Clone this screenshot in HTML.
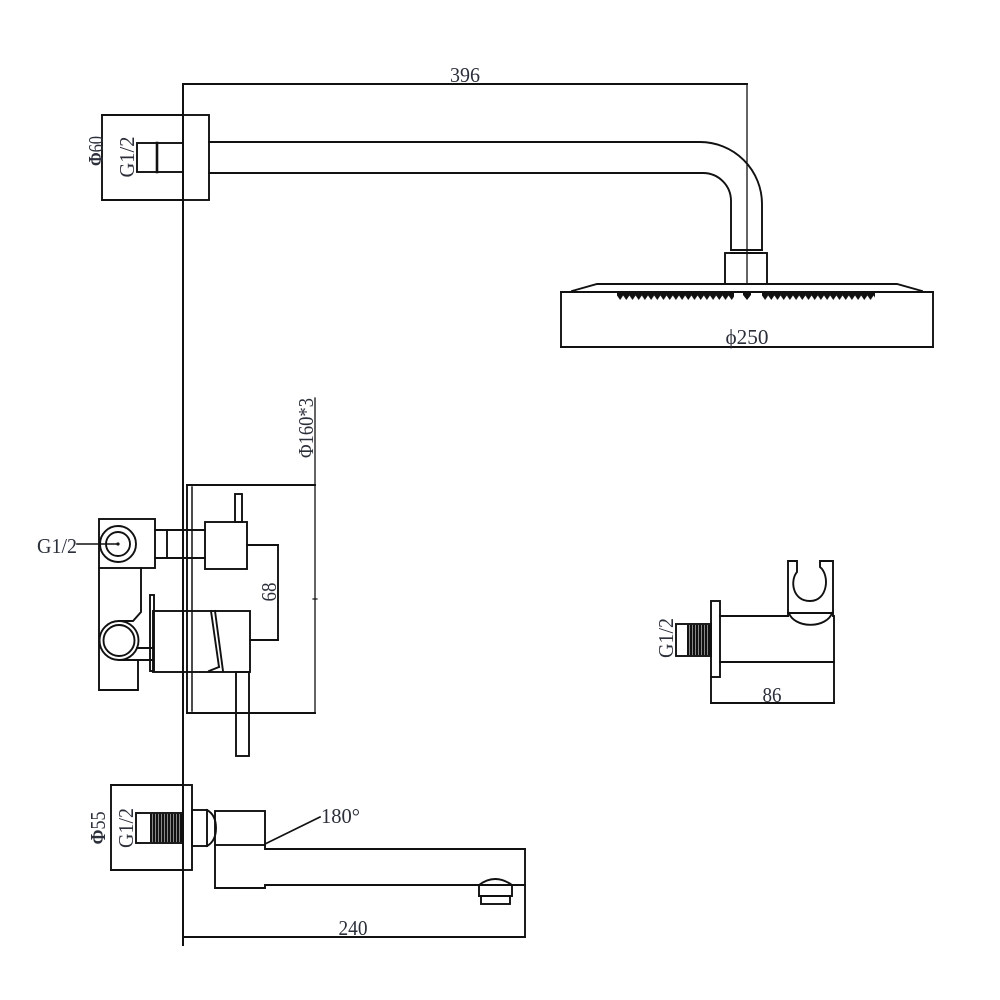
<!DOCTYPE html>
<html>
<head>
<meta charset="utf-8">
<style>
html,body{margin:0;padding:0;background:#fff;}
svg{display:block;}
text{font-family:"Liberation Serif","DejaVu Serif",serif;font-size:21px;fill:#2b2f3a;}
</style>
</head>
<body>
<svg width="1000" height="1000" viewBox="0 0 1000 1000" xmlns="http://www.w3.org/2000/svg">
<defs>
  <pattern id="noz" x="617" y="292" width="6.2" height="8" patternUnits="userSpaceOnUse">
    <path d="M0,0 L6.2,0 L6.2,3.5 L3.1,8 L0,3.5 Z" fill="#111"/>
  </pattern>
  <pattern id="noz2" x="762" y="292" width="6.2" height="8" patternUnits="userSpaceOnUse">
    <path d="M0,0 L6.2,0 L6.2,3.5 L3.1,8 L0,3.5 Z" fill="#111"/>
  </pattern>
  <pattern id="thr" x="0" y="0" width="3" height="10" patternUnits="userSpaceOnUse">
    <rect x="0" y="0" width="2.5" height="10" fill="#111"/>
  </pattern>
</defs>

<g fill="none" stroke="#111" stroke-width="1.9" stroke-linecap="square">
  <line x1="183" y1="84" x2="183" y2="945" stroke-width="2"/>
  <line x1="183" y1="84" x2="747" y2="84"/>
  <line x1="747" y1="84" x2="747" y2="284" stroke-width="1.3"/>

  <rect x="183" y="115" width="26" height="85"/>
  <line x1="102" y1="115" x2="102" y2="200"/>
  <line x1="102" y1="115" x2="183" y2="115"/>
  <line x1="102" y1="200" x2="183" y2="200"/>
  <rect x="137" y="143" width="46" height="29"/>
  <line x1="157" y1="143" x2="157" y2="172" stroke-width="2.6"/>

  <path d="M209,142 L700,142 A62,62 0 0 1 762,204 L762,250"/>
  <path d="M209,173 L703,173 A28,28 0 0 1 731,201 L731,250"/>
  <line x1="731" y1="250" x2="762" y2="250"/>
  <line x1="731" y1="253" x2="762" y2="253"/>
  <rect x="725" y="253" width="42" height="31"/>

  <path d="M572,291 L597,284 L897,284 L922,291"/>
  <line x1="561" y1="292" x2="933" y2="292"/>
  <line x1="561" y1="292" x2="561" y2="347"/>
  <line x1="933" y1="292" x2="933" y2="347"/>
  <line x1="561" y1="347" x2="933" y2="347"/>
</g>

<rect x="617" y="292" width="117" height="8" fill="url(#noz)"/>
<path d="M743,292 L751,292 L751,295 L747,300 L743,295 Z" fill="#111"/>
<rect x="762" y="292" width="113" height="8" fill="url(#noz2)"/>

<g fill="none" stroke="#111" stroke-width="1.9" stroke-linecap="square">
  <line x1="187" y1="485" x2="187" y2="713"/>
  <line x1="192" y1="487" x2="192" y2="711" stroke-width="1.5"/>
  <line x1="187" y1="485" x2="315" y2="485"/>
  <line x1="187" y1="713" x2="315" y2="713"/>
  <line x1="315" y1="398" x2="315" y2="713" stroke-width="1.3"/>
  <line x1="313" y1="599" x2="317" y2="599" stroke-width="1.2"/>

  <rect x="205" y="522" width="42" height="47"/>
  <rect x="235" y="494" width="7" height="28"/>
  <line x1="155" y1="530" x2="205" y2="530"/>
  <line x1="155" y1="558" x2="205" y2="558"/>
  <line x1="167" y1="530" x2="167" y2="558"/>

  <rect x="99" y="519" width="56" height="49"/>
  <circle cx="118" cy="544" r="18"/>
  <circle cx="118" cy="544" r="12"/>
  <line x1="77" y1="544" x2="118" y2="544" stroke-width="1.6"/>

  <path d="M99,568 L99,690 L138,690 L138,660"/>
  <path d="M141,568 L141,612 L133,621 L119,621"/>
  <circle cx="119" cy="640.5" r="19.5"/>
  <circle cx="119" cy="640.5" r="15.5"/>
  <line x1="119" y1="660" x2="153" y2="660"/>
  <line x1="137" y1="648" x2="153" y2="648"/>
  <rect x="150" y="595" width="4" height="76"/>

  <rect x="153" y="611" width="97" height="61"/>
  <line x1="211" y1="611" x2="219" y2="667"/>
  <line x1="215" y1="611" x2="223" y2="671"/>
  <line x1="209" y1="671" x2="219" y2="667"/>
  <rect x="236" y="672" width="13" height="84"/>

  <line x1="247" y1="545" x2="278" y2="545"/>
  <line x1="278" y1="545" x2="278" y2="640"/>
  <line x1="250" y1="640" x2="278" y2="640"/>

  <line x1="111" y1="785" x2="111" y2="870"/>
  <line x1="111" y1="785" x2="183" y2="785"/>
  <line x1="111" y1="870" x2="183" y2="870"/>
  <rect x="183" y="785" width="9" height="85"/>
  <rect x="136" y="813" width="47" height="30"/>
  <rect x="192" y="810" width="15" height="36"/>
  <path d="M207,810 Q216,815 216,828 Q216,841 207,846"/>
  <rect x="215" y="811" width="50" height="34"/>
  <path d="M215,845 L215,888 L265,888 L265,885 L525,885"/>
  <path d="M265,845 L265,849 L525,849"/>
  <line x1="525" y1="849" x2="525" y2="937"/>
  <path d="M479,896 L479,885 Q495,873 512,885 L512,896 Z"/>
  <rect x="481" y="896" width="29" height="8"/>
  <line x1="265" y1="844" x2="320" y2="817" stroke-width="1.7"/>
  <line x1="183" y1="937" x2="525" y2="937"/>

  <rect x="711" y="601" width="9" height="76"/>
  <rect x="676" y="624" width="35" height="32"/>
  <line x1="720" y1="616" x2="788" y2="616"/>
  <line x1="720" y1="662" x2="834" y2="662"/>
  <line x1="834" y1="616" x2="834" y2="662"/>
  <path d="M788,616 L788,561 L797,561 L797,572 C790,580 792,601 810,601 C828,601 830,575 820,567 L820,561 L833,561 L833,616"/>
  <line x1="788" y1="613" x2="833" y2="613"/>
  <path d="M789,613 A22,15 0 0 0 832,613"/>
  <line x1="711" y1="677" x2="711" y2="703"/>
  <line x1="834" y1="662" x2="834" y2="703"/>
  <line x1="711" y1="703" x2="834" y2="703"/>
</g>

<rect x="150" y="814" width="32" height="28" fill="url(#thr)"/>
<rect x="687" y="625" width="24" height="30" fill="url(#thr)"/>
<circle cx="118" cy="544" r="1.6" fill="#111"/>

<text x="465" y="82" text-anchor="middle" textLength="30" lengthAdjust="spacingAndGlyphs">396</text>
<text x="747" y="344" text-anchor="middle" textLength="43" lengthAdjust="spacingAndGlyphs">ϕ250</text>
<text transform="translate(103,151) rotate(-90)" text-anchor="middle" textLength="30" lengthAdjust="spacingAndGlyphs"><tspan style="font-weight:bold">Φ</tspan>60</text>
<text transform="translate(134,157) rotate(-90)" text-anchor="middle" textLength="41" lengthAdjust="spacingAndGlyphs">G1/2</text>
<text x="37" y="553" textLength="40" lengthAdjust="spacingAndGlyphs">G1/2</text>
<text transform="translate(313,428) rotate(-90)" text-anchor="middle" textLength="60" lengthAdjust="spacingAndGlyphs">Φ160*3</text>
<text transform="translate(276,592) rotate(-90)" text-anchor="middle" textLength="19" lengthAdjust="spacingAndGlyphs">68</text>
<text transform="translate(105,828) rotate(-90)" text-anchor="middle" textLength="33" lengthAdjust="spacingAndGlyphs"><tspan style="font-weight:bold">Φ</tspan>55</text>
<text transform="translate(133,828) rotate(-90)" text-anchor="middle" textLength="40" lengthAdjust="spacingAndGlyphs">G1/2</text>
<text x="321" y="823" textLength="39" lengthAdjust="spacingAndGlyphs">180°</text>
<text x="353" y="935" text-anchor="middle" textLength="29" lengthAdjust="spacingAndGlyphs">240</text>
<text x="772" y="702" text-anchor="middle" textLength="19" lengthAdjust="spacingAndGlyphs">86</text>
<text transform="translate(673,638) rotate(-90)" text-anchor="middle" textLength="40" lengthAdjust="spacingAndGlyphs">G1/2</text>
</svg>
</body>
</html>
